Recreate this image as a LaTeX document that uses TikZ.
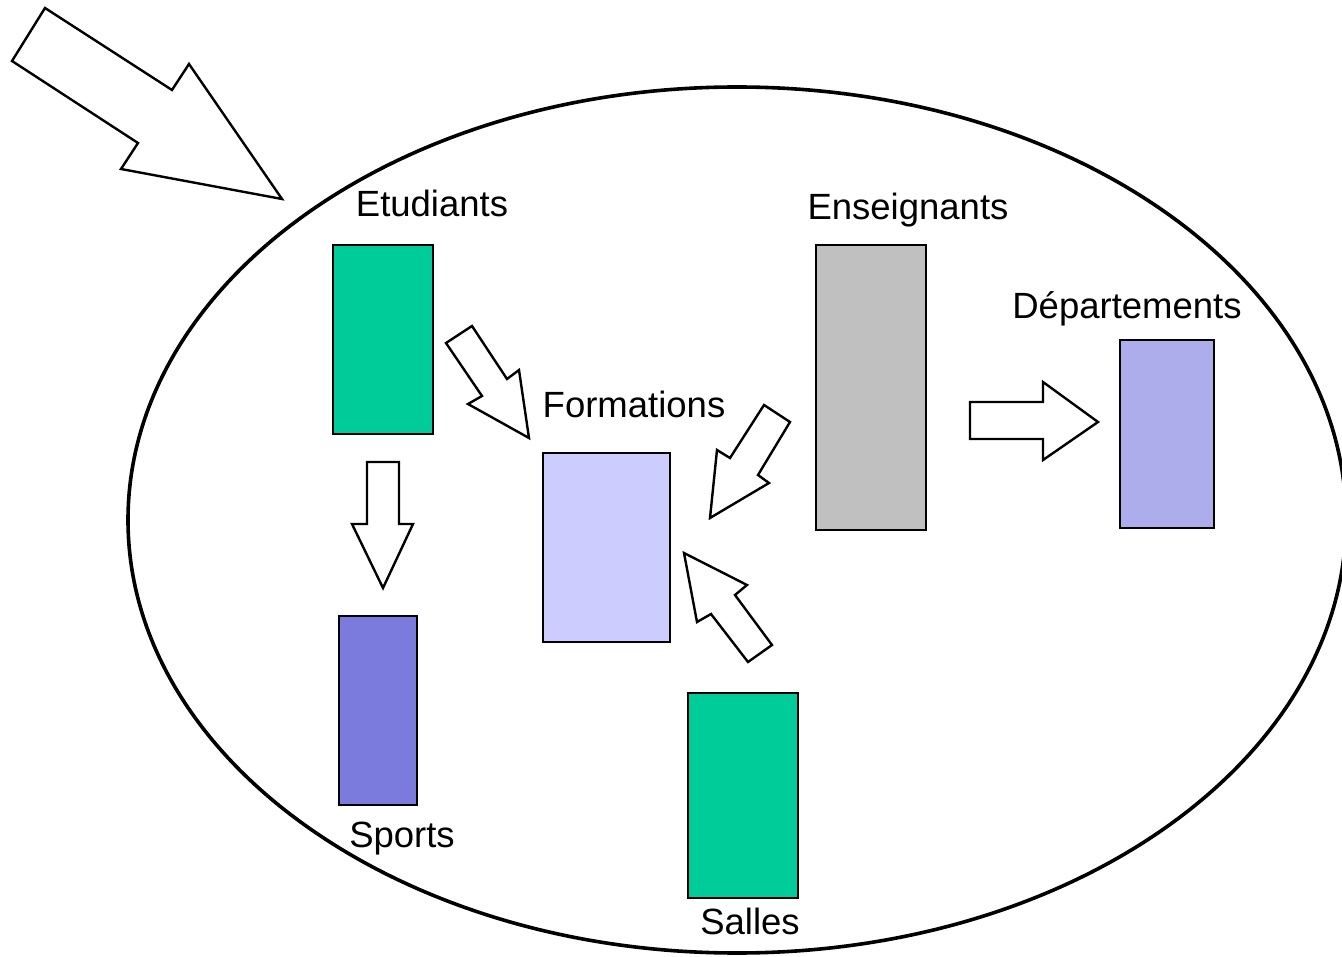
\documentclass[tikz,border=0pt]{standalone}
\usepackage{fontspec}
\setmainfont{Liberation Sans}
\definecolor{vert}{HTML}{00CC99}
\definecolor{violet}{HTML}{7B7BDE}
\definecolor{lavande}{HTML}{CCCCFF}
\definecolor{gris}{HTML}{C0C0C0}
\definecolor{mauve}{HTML}{ADADEB}
\tikzset{
  entity/.style={draw=black, line width=2pt, inner sep=0pt, anchor=north west},
  label text/.style={font=\fontsize{36.5}{40}\selectfont, anchor=base, inner sep=0pt},
  block arrow/.style={draw=black, fill=white, line width=2.4pt, line join=miter},
}
\begin{document}
\begin{tikzpicture}[x=1pt, y=-1pt]
\useasboundingbox (0,0) rectangle (1342,957);
\clip (0,0) rectangle (1342,957);

% the enclosing domain
\draw[line width=3.6pt] (737,520) ellipse [x radius=609, y radius=433];

% entities
\node[entity, fill=vert, minimum width=100pt, minimum height=189pt] (etud) at (332,244) {};
\node[entity, fill=violet, minimum width=78pt, minimum height=189pt] (sport) at (338,615) {};
\node[entity, fill=lavande, minimum width=127pt, minimum height=189pt] (form) at (542,452) {};
\node[entity, fill=vert, minimum width=110pt, minimum height=205pt] (salle) at (687,692) {};
\node[entity, fill=gris, minimum width=110pt, minimum height=285pt] (ens) at (815,244) {};
\node[entity, fill=mauve, minimum width=94pt, minimum height=188pt] (dep) at (1119,339) {};

% captions
\node[label text] (tetud) at (432,217) {Etudiants};
\node[label text] (tens) at (908,220) {Enseignants};
\node[label text] (tdep) at (1127,319) {Départements};
\node[label text] (tform) at (634,418) {Formations};
\node[label text] (tsport) at (402,847) {Sports};
\node[label text] (tsalle) at (750,934) {Salles};

% large incoming arrow
\draw[block arrow] (45,8) -- (172,90) -- (189,64) -- (282,199) -- (121,169) -- (138,143) -- (12,61) -- cycle;

% Etudiants -> Formations
\draw[block arrow] (446,343) -- (472,326) -- (507,379) -- (519,370) -- (529,438) -- (468,404) -- (482,396) -- cycle;

% Enseignants -> Formations
\draw[block arrow] (764,405) -- (790,422) -- (758,475) -- (769,483) -- (710,518) -- (717,450) -- (730,458) -- cycle;

% Salles -> Formations
\draw[block arrow] (748,662) -- (772,645) -- (735,595) -- (747,585) -- (684,553) -- (697,622) -- (711,614) -- cycle;

% Enseignants -> Departements
\draw[block arrow] (970,402) -- (1043,402) -- (1043,382) -- (1098,422) -- (1043,460) -- (1043,439) -- (970,439) -- cycle;

% Etudiants -> Sports
\draw[block arrow] (367,462) -- (399,462) -- (399,524) -- (413,524) -- (383,588) -- (352,524) -- (367,524) -- cycle;
\end{tikzpicture}
\end{document}
